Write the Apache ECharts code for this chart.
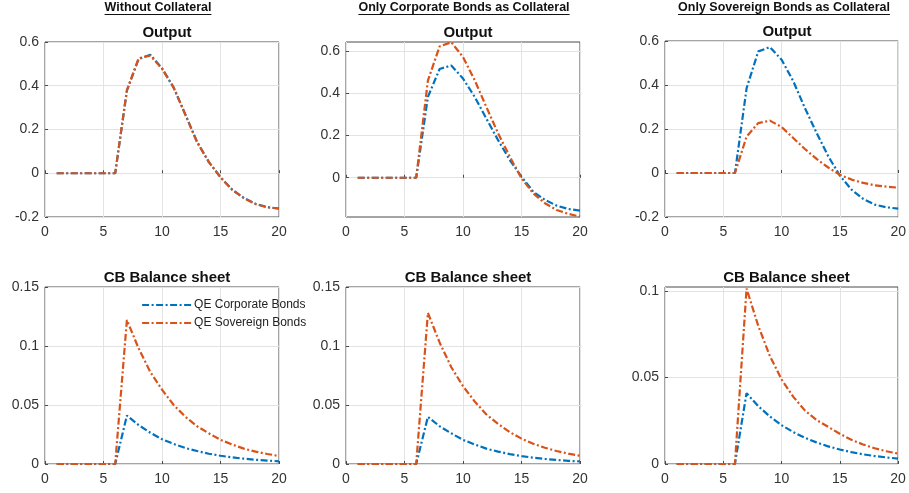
<!DOCTYPE html>
<html>
<head>
<meta charset="utf-8">
<title>QE impulse responses</title>
<script src="https://cdn.jsdelivr.net/npm/echarts@6/dist/echarts.min.js"></script>
<style>
  html, body { margin: 0; padding: 0; background: #ffffff; }
  #chart { width: 909px; height: 493px; }
</style>
</head>
<body>
<div id="chart"></div>
<script>
// Quarters after the shock
const periods = [1, 2, 3, 4, 5, 6, 7, 8, 9, 10, 11, 12, 13, 14, 15, 16, 17, 18, 19, 20];

// Scenario headers and panel titles
const scenarioHeaders = ['Without Collateral', 'Only Corporate Bonds as Collateral', 'Only Sovereign Bonds as Collateral'];
const outputTitle = 'Output';
const balanceTitle = 'CB Balance sheet';
const seriesNames = ['QE Corporate Bonds', 'QE Sovereign Bonds'];

// Output responses
const outNoCollCorp = [0, 0, 0, 0, 0, 0, 0.378, 0.522, 0.542, 0.480, 0.392, 0.268, 0.143, 0.052, -0.018, -0.075, -0.113, -0.140, -0.155, -0.161];
const outNoCollSov  = [0, 0, 0, 0, 0, 0, 0.380, 0.525, 0.538, 0.478, 0.390, 0.267, 0.142, 0.051, -0.019, -0.076, -0.114, -0.141, -0.156, -0.162];
const outCorpCollCorp = [0, 0, 0, 0, 0, 0, 0.383, 0.515, 0.532, 0.470, 0.383, 0.280, 0.178, 0.084, 0.005, -0.066, -0.105, -0.132, -0.148, -0.156];
const outCorpCollSov  = [0, 0, 0, 0, 0, 0, 0.460, 0.622, 0.642, 0.572, 0.462, 0.335, 0.210, 0.100, -0.003, -0.074, -0.121, -0.153, -0.171, -0.184];
const outSovCollCorp = [0, 0, 0, 0, 0, 0, 0.386, 0.553, 0.572, 0.515, 0.417, 0.295, 0.182, 0.076, -0.012, -0.076, -0.118, -0.144, -0.156, -0.162];
const outSovCollSov  = [0, 0, 0, 0, 0, 0, 0.166, 0.227, 0.238, 0.209, 0.159, 0.109, 0.064, 0.025, -0.008, -0.030, -0.045, -0.056, -0.062, -0.067];

// Central bank balance sheet responses
const cbNoCollCorp = [0, 0, 0, 0, 0, 0, 0.041, 0.033, 0.0265, 0.021, 0.017, 0.0135, 0.011, 0.0087, 0.007, 0.0056, 0.0045, 0.0036, 0.0029, 0.0023];
const cbNoCollSov  = [0, 0, 0, 0, 0, 0, 0.122, 0.098, 0.078, 0.063, 0.050, 0.040, 0.032, 0.026, 0.0205, 0.0165, 0.013, 0.0105, 0.0085, 0.0068];
const cbCorpCollCorp = [0, 0, 0, 0, 0, 0, 0.040, 0.032, 0.026, 0.0205, 0.0165, 0.013, 0.0105, 0.0084, 0.0067, 0.0054, 0.0043, 0.0034, 0.0027, 0.0022];
const cbCorpCollSov  = [0, 0, 0, 0, 0, 0, 0.128, 0.103, 0.082, 0.066, 0.053, 0.042, 0.034, 0.027, 0.0215, 0.0172, 0.0138, 0.011, 0.0088, 0.007];
const cbSovCollCorp = [0, 0, 0, 0, 0, 0, 0.041, 0.0335, 0.0275, 0.0225, 0.0185, 0.0152, 0.0125, 0.0102, 0.0084, 0.0069, 0.0056, 0.0046, 0.0038, 0.0031];
const cbSovCollSov  = [0, 0, 0, 0, 0, 0, 0.1015, 0.080, 0.0625, 0.049, 0.039, 0.031, 0.0255, 0.0215, 0.0175, 0.014, 0.0113, 0.0091, 0.0074, 0.006];

// Tick values
const xTicks = [0, 5, 10, 15, 20];
const outTicks = [-0.2, 0, 0.2, 0.4, 0.6];
const outTicksMid = [0, 0.2, 0.4, 0.6];
const cbTicks = [0, 0.05, 0.1, 0.15];
const cbTicksRight = [0, 0.05, 0.1];

const BLUE = '#0072BD';
const ORANGE = '#D95319';
const AXIS = '#4a4a4a';
const TEXT = '#333333';
const FONT = '"Liberation Sans", Arial, sans-serif';
const DASH_DOT = [7, 2.5, 2, 2.5];

const panels = [
  { grid: { left: 45, top: 42, width: 234, height: 175 }, title: outputTitle, min: -0.2, max: 0.6, ticks: outTicks, corp: outNoCollCorp, sov: outNoCollSov },
  { grid: { left: 346, top: 42, width: 234, height: 175 }, title: outputTitle, min: -0.186, max: 0.643, ticks: outTicksMid, corp: outCorpCollCorp, sov: outCorpCollSov },
  { grid: { left: 665, top: 41, width: 234, height: 176 }, title: outputTitle, min: -0.2, max: 0.6, ticks: outTicks, corp: outSovCollCorp, sov: outSovCollSov },
  { grid: { left: 45, top: 287, width: 234, height: 177 }, title: balanceTitle, min: 0, max: 0.15, ticks: cbTicks, corp: cbNoCollCorp, sov: cbNoCollSov },
  { grid: { left: 346, top: 287, width: 234, height: 177 }, title: balanceTitle, min: 0, max: 0.15, ticks: cbTicks, corp: cbCorpCollCorp, sov: cbCorpCollSov },
  { grid: { left: 665, top: 287, width: 233, height: 177 }, title: balanceTitle, min: 0, max: 0.1024, ticks: cbTicksRight, corp: cbSovCollCorp, sov: cbSovCollSov }
];

function pairs(values) {
  return periods.map((p, i) => [p, values[i]]);
}

const grids = [], xAxes = [], yAxes = [], series = [], titles = [];

panels.forEach((pn, i) => {
  grids.push(Object.assign({
    show: true, borderColor: AXIS, borderWidth: 1, backgroundColor: '#ffffff', containLabel: false
  }, pn.grid));

  xAxes.push({
    type: 'value', gridIndex: i, min: 0, max: 20,
    axisLine: { show: false },
    axisTick: { show: true, inside: true, length: 3, lineStyle: { color: AXIS }, customValues: xTicks },
    axisLabel: { color: TEXT, fontSize: 14, fontFamily: FONT, margin: 8, customValues: xTicks },
    splitLine: { show: true, lineStyle: { color: '#e3e3e3', width: 1 } }
  });

  yAxes.push({
    type: 'value', gridIndex: i, min: pn.min, max: pn.max,
    axisLine: { show: false },
    axisTick: { show: true, inside: true, length: 3, lineStyle: { color: AXIS }, customValues: pn.ticks },
    axisLabel: { color: TEXT, fontSize: 14, fontFamily: FONT, margin: 6, customValues: pn.ticks,
      formatter: v => String(+v.toFixed(3)) },
    splitLine: { show: true, lineStyle: { color: '#e3e3e3', width: 1 } }
  });

  const lineBase = { type: 'line', xAxisIndex: i, yAxisIndex: i, symbol: 'none', silent: true, z: 3 };
  series.push(Object.assign({}, lineBase, {
    name: seriesNames[0], data: pairs(pn.corp),
    lineStyle: { color: BLUE, width: 2.2, type: DASH_DOT }, itemStyle: { color: BLUE }
  }));
  series.push(Object.assign({}, lineBase, {
    name: seriesNames[1], data: pairs(pn.sov),
    lineStyle: { color: ORANGE, width: 2.2, type: DASH_DOT }, itemStyle: { color: ORANGE }
  }));

  titles.push({
    text: pn.title,
    left: pn.grid.left + pn.grid.width / 2,
    top: pn.grid.top - 22,
    textAlign: 'center',
    textStyle: { fontFamily: FONT, fontSize: 15, fontWeight: 'bold', color: '#111111' }
  });
});

// Underlined scenario headers above each column
const headerCenters = [158, 464, 784];
const headerFont = 'bold 12.5px ' + FONT;
const measureCtx = document.createElement('canvas').getContext('2d');
measureCtx.font = headerFont;
const graphics = [];
scenarioHeaders.forEach((txt, i) => {
  const w = measureCtx.measureText(txt).width;
  graphics.push({
    type: 'text', x: headerCenters[i], y: 7.5, silent: true,
    style: { text: txt, font: headerFont, fill: '#111111', textAlign: 'center', textVerticalAlign: 'middle' }
  });
  graphics.push({
    type: 'line', silent: true,
    shape: { x1: headerCenters[i] - w / 2, y1: 14.5, x2: headerCenters[i] + w / 2, y2: 14.5 },
    style: { stroke: '#111111', lineWidth: 1 }
  });
});

const chart = echarts.init(document.getElementById('chart'), null, { renderer: 'canvas' });
chart.setOption({
  backgroundColor: '#ffffff',
  animation: false,
  title: titles,
  grid: grids,
  xAxis: xAxes,
  yAxis: yAxes,
  series: series,
  legend: {
    data: seriesNames,
    orient: 'vertical',
    left: 136, top: 294,
    itemWidth: 50, itemHeight: 12, itemGap: 6,
    itemStyle: { opacity: 0, borderWidth: 0 },
    lineStyle: { width: 2.2 },
    backgroundColor: 'transparent',
    textStyle: { fontFamily: FONT, fontSize: 12, color: '#222222', padding: [0, 0, 0, -3] },
    selectedMode: false
  },
  graphic: graphics
});
</script>
</body>
</html>
